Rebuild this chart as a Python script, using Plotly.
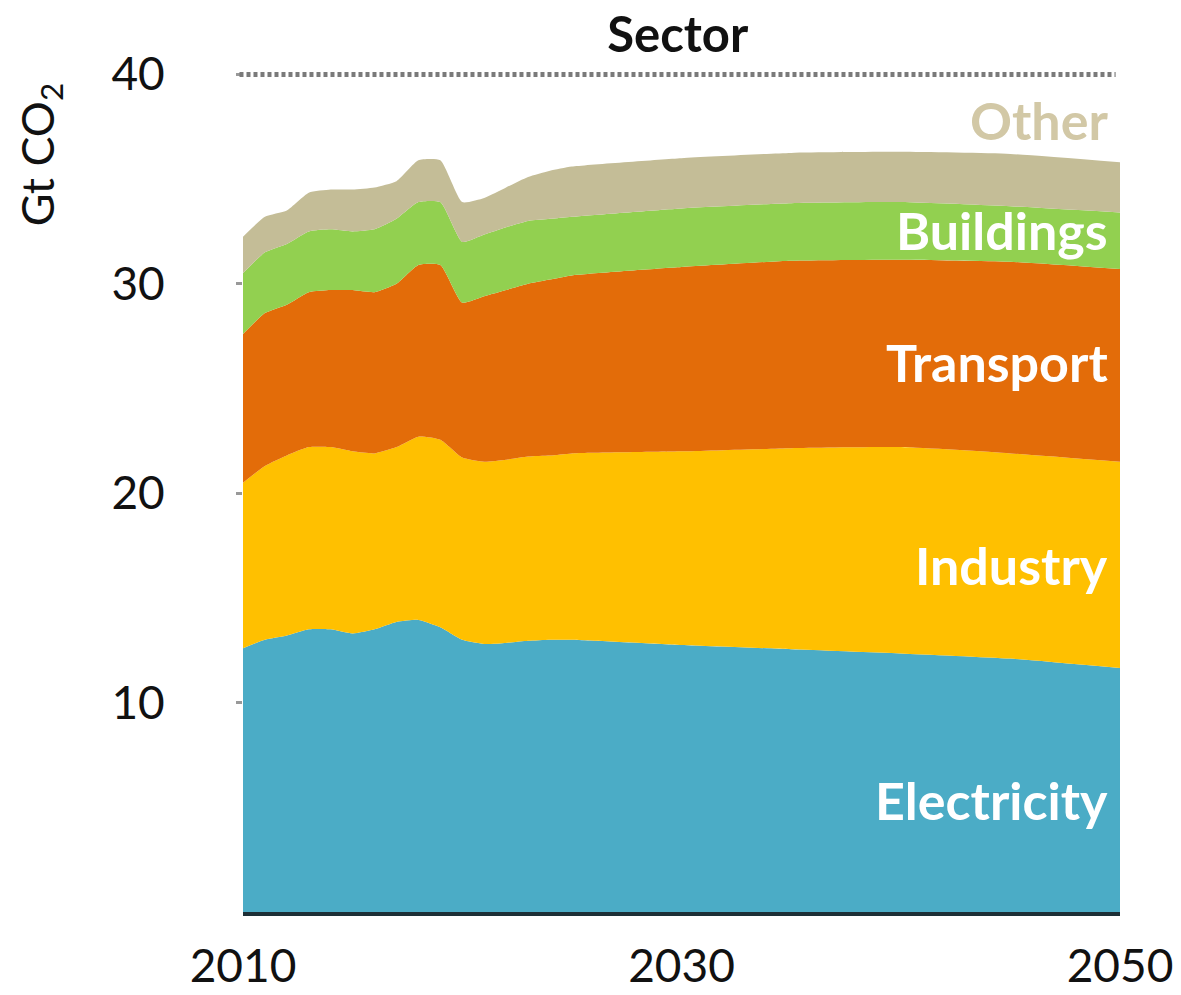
import plotly.graph_objects as go

# ---- data (Gt CO2 by sector) ----
years = [2010, 2011, 2012, 2013, 2014, 2015, 2016, 2017, 2018, 2019, 2020,
         2021, 2022, 2023, 2024, 2025, 2030, 2035, 2040, 2045, 2050]
electricity = [12.6, 13.0, 13.2, 13.5, 13.5, 13.3, 13.5, 13.85, 13.95, 13.6, 13.0,
               12.8, 12.85, 12.95, 13.0, 13.0, 12.75, 12.55, 12.35, 12.1, 11.65]
industry = [7.9, 8.3, 8.6, 8.7, 8.7, 8.7, 8.4, 8.35, 8.75, 8.95, 8.7,
            8.7, 8.75, 8.8, 8.8, 8.9, 9.25, 9.6, 9.85, 9.8, 9.85]
transport = [7.1, 7.3, 7.2, 7.4, 7.5, 7.7, 7.7, 7.8, 8.2, 8.35, 7.4,
             7.9, 8.1, 8.25, 8.4, 8.5, 8.8, 8.95, 8.95, 9.15, 9.2]
buildings = [2.9, 2.9, 2.9, 2.9, 2.9, 2.8, 3.0, 3.1, 3.0, 3.0, 2.9,
             2.95, 3.0, 3.0, 2.9, 2.8, 2.8, 2.75, 2.75, 2.65, 2.7]
other = [1.75, 1.7, 1.6, 1.85, 1.9, 2.0, 2.0, 1.8, 2.0, 2.0, 1.9,
         1.75, 1.9, 2.1, 2.3, 2.4, 2.4, 2.4, 2.4, 2.5, 2.4]

sectors = ["Electricity", "Industry", "Transport", "Buildings", "Other"]
series = [electricity, industry, transport, buildings, other]
colors = ["#4BACC6", "#FFC000", "#E36C09", "#92D050", "#C4BD97"]
label_y = [5.35, 16.55, 26.25, 32.55, 37.8]
label_colors = ["white", "white", "white", "white", "#D2C8A6"]

x_ticks = [2010, 2030, 2050]
y_ticks = [10, 20, 30, 40]
title_text = "Sector"
y_title = "Gt CO<sub>2</sub>"

FONT = "Lato"

fig = go.Figure()
for name, vals, col in zip(sectors, series, colors):
    fig.add_trace(go.Scatter(
        x=years, y=vals, name=name, stackgroup="one",
        mode="lines", line=dict(width=0, shape="spline", smoothing=0.5),
        fillcolor=col, hoverinfo="x+y+name",
    ))

for name, ly, lc in zip(sectors, label_y, label_colors):
    fig.add_annotation(
        x=0.9886, xref="paper", y=ly, yref="y", text=f"<b>{name}</b>",
        xanchor="right", yanchor="middle", showarrow=False,
        font=dict(family=FONT, size=52, color=lc),
    )

# dotted line at the top of the axis
fig.add_shape(type="line", xref="paper", x0=-0.004, x1=0.995, yref="y",
              y0=max(y_ticks), y1=max(y_ticks),
              line=dict(color="#7a7a7a", width=5, dash="4px,3px"))

# y-axis title
fig.add_annotation(x=-0.232, xref="paper", y=0.895, yref="paper", text=y_title,
                   showarrow=False, textangle=-90, xanchor="center", yanchor="middle",
                   font=dict(family=FONT, size=45, color="#111"))

# page body has an 8px margin, so the figure is sized to fill the rest of the window
fig.update_layout(
    width=1173, height=987,
    margin=dict(l=235, r=61, t=58, b=83, autoexpand=False),
    paper_bgcolor="white", plot_bgcolor="white",
    showlegend=False,
    title=dict(text=f"<b>{title_text}</b>", x=0.571, xref="container",
               y=0.973, yref="container", xanchor="center", yanchor="middle",
               font=dict(family=FONT, size=49, color="#111")),
    font=dict(family=FONT, color="#111"),
)
fig.update_xaxes(range=[2010, 2050], tickvals=x_ticks, ticktext=[str(v) for v in x_ticks],
                 showgrid=False, zeroline=False, showline=True, automargin=False,
                 linecolor="#1d2f36", linewidth=4, ticks="",
                 ticklabelstandoff=11,
                 tickfont=dict(family=FONT, size=46, color="#111"))
fig.update_yaxes(range=[0, 40.4], tickvals=y_ticks, showgrid=False, zeroline=False,
                 showline=False, automargin=False, ticks="outside", ticklen=6, tickwidth=3,
                 tickcolor="#999999", ticklabelstandoff=62,
                 tickfont=dict(family=FONT, size=46, color="#111"))

fig.write_html("out.html")
